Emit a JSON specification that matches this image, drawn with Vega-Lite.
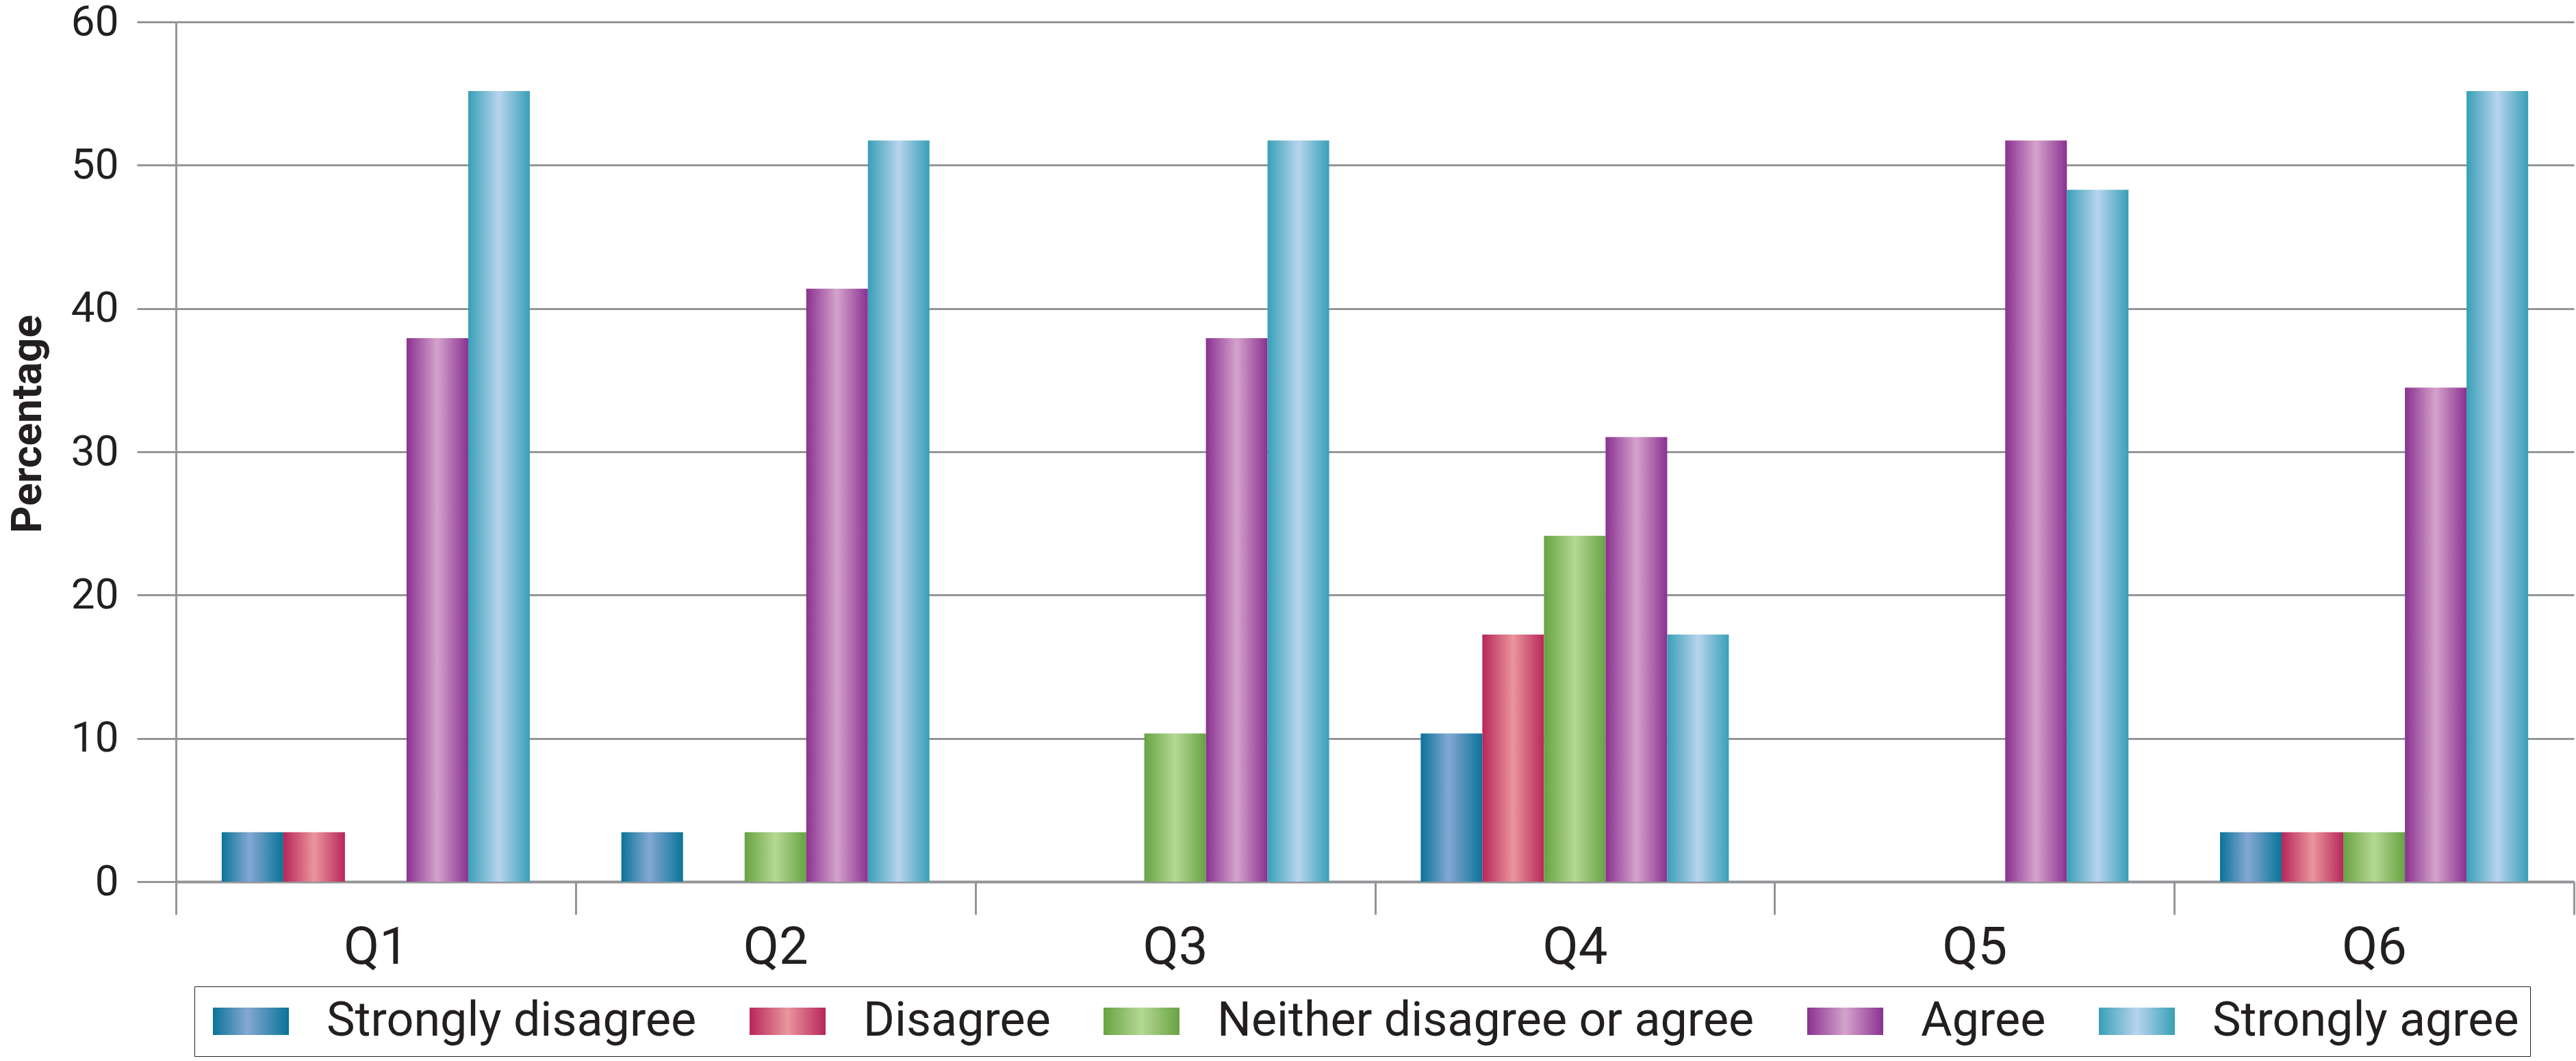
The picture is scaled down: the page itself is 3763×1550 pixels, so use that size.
{
  "$schema": "https://vega.github.io/schema/vega-lite/v6.json",
  "autosize": "none",
  "width": 3503,
  "height": 1256,
  "padding": {"left": 257, "top": 32, "right": 3, "bottom": 262},
  "background": "white",
  "config": {
    "view": {"stroke": null},
    "font": "Roboto"
  },
  "data": {
    "values": [
      {"q": "Q1", "resp": "Strongly disagree", "pct": 3.45},
      {"q": "Q1", "resp": "Disagree", "pct": 3.45},
      {"q": "Q1", "resp": "Neither disagree or agree", "pct": 0},
      {"q": "Q1", "resp": "Agree", "pct": 37.93},
      {"q": "Q1", "resp": "Strongly agree", "pct": 55.17},
      {"q": "Q2", "resp": "Strongly disagree", "pct": 3.45},
      {"q": "Q2", "resp": "Disagree", "pct": 0},
      {"q": "Q2", "resp": "Neither disagree or agree", "pct": 3.45},
      {"q": "Q2", "resp": "Agree", "pct": 41.38},
      {"q": "Q2", "resp": "Strongly agree", "pct": 51.72},
      {"q": "Q3", "resp": "Strongly disagree", "pct": 0},
      {"q": "Q3", "resp": "Disagree", "pct": 0},
      {"q": "Q3", "resp": "Neither disagree or agree", "pct": 10.34},
      {"q": "Q3", "resp": "Agree", "pct": 37.93},
      {"q": "Q3", "resp": "Strongly agree", "pct": 51.72},
      {"q": "Q4", "resp": "Strongly disagree", "pct": 10.34},
      {"q": "Q4", "resp": "Disagree", "pct": 17.24},
      {"q": "Q4", "resp": "Neither disagree or agree", "pct": 24.14},
      {"q": "Q4", "resp": "Agree", "pct": 31.03},
      {"q": "Q4", "resp": "Strongly agree", "pct": 17.24},
      {"q": "Q5", "resp": "Strongly disagree", "pct": 0},
      {"q": "Q5", "resp": "Disagree", "pct": 0},
      {"q": "Q5", "resp": "Neither disagree or agree", "pct": 0},
      {"q": "Q5", "resp": "Agree", "pct": 51.72},
      {"q": "Q5", "resp": "Strongly agree", "pct": 48.28},
      {"q": "Q6", "resp": "Strongly disagree", "pct": 3.45},
      {"q": "Q6", "resp": "Disagree", "pct": 3.45},
      {"q": "Q6", "resp": "Neither disagree or agree", "pct": 3.45},
      {"q": "Q6", "resp": "Agree", "pct": 34.48},
      {"q": "Q6", "resp": "Strongly agree", "pct": 55.17}
    ]
  },
  "mark": {"type": "bar"},
  "encoding": {
    "x": {
      "field": "q",
      "type": "nominal",
      "scale": {"paddingInner": 0, "paddingOuter": 0},
      "axis": {
        "title": null,
        "labelAngle": 0,
        "labelFont": "Roboto",
        "labelFontSize": 76,
        "labelColor": "#231f20",
        "labelBaseline": "alphabetic",
        "labelPadding": 71,
        "tickBand": "extent",
        "tickSize": 48,
        "tickWidth": 3,
        "tickColor": "#939598",
        "domainColor": "#939598",
        "domainWidth": 4,
        "grid": false
      }
    },
    "xOffset": {
      "field": "resp",
      "type": "nominal",
      "scale": {
        "domain": ["Strongly disagree", "Disagree", "Neither disagree or agree", "Agree", "Strongly agree"],
        "paddingInner": 0,
        "paddingOuter": 0.743
      }
    },
    "y": {
      "field": "pct",
      "type": "quantitative",
      "scale": {"domain": [0, 60], "nice": false},
      "axis": {
        "title": "Percentage",
        "titleFont": "Roboto",
        "titleFontWeight": "bold",
        "titleFontSize": 62,
        "titleColor": "#231f20",
        "titleAngle": -90,
        "titleAlign": "center",
        "titleBaseline": "alphabetic",
        "titleX": -198,
        "titleY": 587,
        "values": [0, 10, 20, 30, 40, 50, 60],
        "labelFont": "Roboto",
        "labelFontSize": 62,
        "labelColor": "#231f20",
        "labelPadding": 27,
        "tickSize": 57,
        "tickWidth": 3,
        "tickColor": "#939598",
        "domainColor": "#939598",
        "domainWidth": 3,
        "grid": true,
        "gridColor": "#939598",
        "gridWidth": 3,
        "gridOpacity": 1
      }
    },
    "color": {
      "field": "resp",
      "type": "nominal",
      "scale": {
        "domain": ["Strongly disagree", "Disagree", "Neither disagree or agree", "Agree", "Strongly agree"],
        "range": [
          {"expr": "{gradient: 'linear', x1: 0, y1: 0, x2: 1, y2: 0, stops: [{offset: 0, color: '#0a7399'}, {offset: 0.45, color: '#84a8d3'}, {offset: 1, color: '#0a7399'}]}"},
          {"expr": "{gradient: 'linear', x1: 0, y1: 0, x2: 1, y2: 0, stops: [{offset: 0, color: '#b8265a'}, {offset: 0.5, color: '#e9969c'}, {offset: 1, color: '#b8265a'}]}"},
          {"expr": "{gradient: 'linear', x1: 0, y1: 0, x2: 1, y2: 0, stops: [{offset: 0, color: '#68a243'}, {offset: 0.5, color: '#b5d993'}, {offset: 1, color: '#68a243'}]}"},
          {"expr": "{gradient: 'linear', x1: 0, y1: 0, x2: 1, y2: 0, stops: [{offset: 0, color: '#8a3190'}, {offset: 0.5, color: '#d4a3cc'}, {offset: 1, color: '#8a3190'}]}"},
          {"expr": "{gradient: 'linear', x1: 0, y1: 0, x2: 1, y2: 0, stops: [{offset: 0, color: '#37a0b7'}, {offset: 0.5, color: '#b8d4ee'}, {offset: 1, color: '#37a0b7'}]}"}
        ]
      },
      "legend": {
        "title": null,
        "orient": "none",
        "legendX": 27,
        "legendY": 1409,
        "direction": "horizontal",
        "columns": 5,
        "columnPadding": 66,
        "padding": 16,
        "strokeColor": "#231f20",
        "labelFont": "Roboto",
        "labelFontSize": 70,
        "labelColor": "#231f20",
        "labelLimit": 2000,
        "labelOffset": 107,
        "symbolType": "M-1.2,-1H4.35V1H-1.2Z",
        "symbolSize": 1600,
        "symbolStrokeWidth": 0,
        "symbolOpacity": 1
      }
    }
  }
}
